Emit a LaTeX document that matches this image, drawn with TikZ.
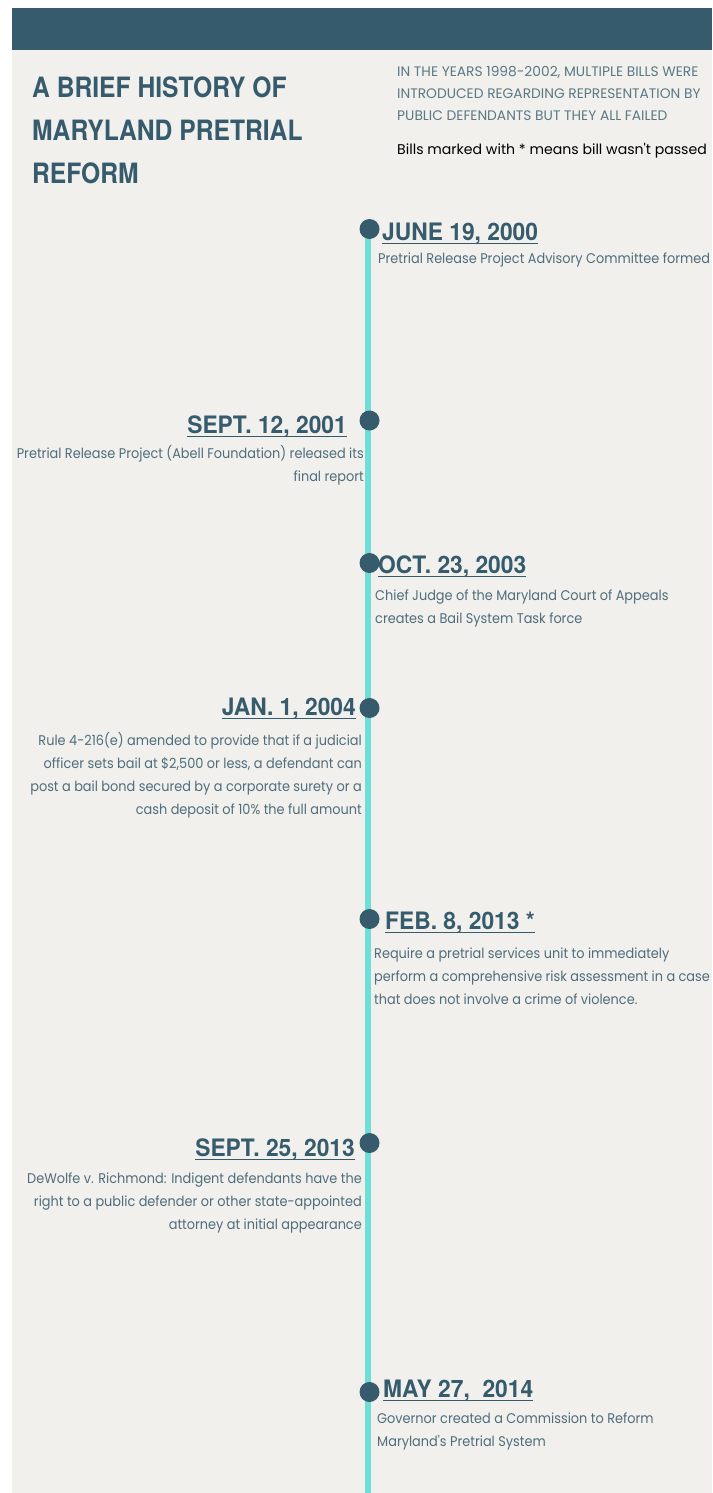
\documentclass[tikz,border=0pt]{standalone}
\usepackage{fontspec}
\usetikzlibrary{backgrounds}
\newfontfamily\titlefont[FakeStretch=0.88]{TeX Gyre Heros}
\newfontfamily\datefont[FakeStretch=0.95]{TeX Gyre Heros}
\newfontfamily\bodyfont[FakeStretch=0.92]{Poppins}
\newfontfamily\introfont{Poppins}
\definecolor{pageBg}{HTML}{F1F0EC}
\definecolor{navy}{HTML}{365B6D}
\definecolor{lineTeal}{HTML}{6EDFD6}
\definecolor{bodyText}{HTML}{4F6D7C}
\definecolor{introText}{HTML}{5A7886}
\tikzset{
  dot/.style={circle, fill=navy, minimum size=20pt, inner sep=0pt},
  datelabel/.style={inner sep=0pt, text=navy, font=\datefont\bfseries\fontsize{24}{28}\selectfont},
  uline/.style={draw=navy, line width=1.4pt},
  bodytext/.style={inner sep=0pt, text=bodyText, font=\bodyfont\fontsize{14}{23}\selectfont},
  titletext/.style={inner sep=0pt, text=navy, align=left, font=\titlefont\bfseries\fontsize{28}{43}\selectfont},
}
\begin{document}
\begin{tikzpicture}[x=1pt,y=-1pt]
\useasboundingbox (0,0) rectangle (712,1493);

% heading
\node[titletext, anchor=north west] (title) at (32,77)
  {A BRIEF HISTORY OF\\MARYLAND PRETRIAL\\REFORM};
\node[bodytext, text=introText, anchor=north west, align=left,
      font=\introfont\fontsize{13.8}{22}\selectfont] (intro) at (397,66)
  {IN THE YEARS 1998-2002, MULTIPLE BILLS WERE\\INTRODUCED REGARDING REPRESENTATION BY\\PUBLIC DEFENDANTS BUT THEY ALL FAILED};
\node[bodytext, text=black, anchor=base west, font=\introfont\fontsize{14.1}{23}\selectfont] (note) at (397,154)
  {Bills marked with * means bill wasn't passed};

% event markers
\node[dot] (d1) at (369.5,229) {};
\node[dot] (d2) at (369.5,420.5) {};
\node[dot] (d3) at (369.5,563) {};
\node[dot] (d4) at (369.5,708) {};
\node[dot] (d5) at (369.5,919) {};
\node[dot] (d6) at (369.5,1143) {};
\node[dot] (d7) at (369.5,1392) {};
\coordinate (spineEnd) at (368,1493);

% page, header band and timeline spine, all behind the markers
\begin{scope}[on background layer]
\fill[white] (0,0) rectangle (712,1493);
\fill[pageBg] (12,8) rectangle (712,1493);
\fill[navy] (12,8) rectangle (712,50);
\draw[lineTeal, line width=5.5pt] (d1.center -| spineEnd) -- (spineEnd);
\end{scope}

% events
\node[datelabel, anchor=base west] (t1) at (382,240) {JUNE 19, 2000};
\node[bodytext, anchor=north west, align=left] (b1) at (378,253)
  {Pretrial Release Project Advisory Committee formed};

\node[datelabel, anchor=base east] (t2) at (347,433) {SEPT. 12, 2001};
\node[bodytext, anchor=north east, align=right] (b2) at (364,445)
  {Pretrial Release Project (Abell Foundation) released its\\final report};

\node[datelabel, anchor=base west] (t3) at (378,573) {OCT. 23, 2003};
\node[bodytext, anchor=north west, align=left] (b3) at (375,590)
  {Chief Judge of the Maryland Court of Appeals\\creates a Bail System Task force};

\node[datelabel, anchor=base east] (t4) at (356,715) {JAN. 1, 2004};
\node[bodytext, anchor=north east, align=right] (b4) at (362,732)
  {Rule 4-216(e) amended to provide that if a judicial\\officer sets bail at \$2,500 or less, a defendant can\\post a bail bond secured by a corporate surety or a\\cash deposit of 10\% the full amount};

\node[datelabel, anchor=base west] (t5) at (385,929) {FEB. 8, 2013 *};
\node[bodytext, anchor=north west, align=left] (b5) at (374,948)
  {Require a pretrial services unit to immediately\\perform a comprehensive risk assessment in a case\\that does not involve a crime of violence.};

\node[datelabel, anchor=base east] (t6) at (355,1156) {SEPT. 25, 2013};
\node[bodytext, anchor=north east, align=right] (b6) at (362,1173)
  {DeWolfe v. Richmond: Indigent defendants have the\\right to a public defender or other state-appointed\\attorney at initial appearance};

\node[datelabel, anchor=base west] (t7) at (383,1397) {MAY 27,\ \ 2014};
\node[bodytext, anchor=north west, align=left] (b7) at (377,1413)
  {Governor created a Commission to Reform\\Maryland's Pretrial System};

% underlines beneath each date
\foreach \t in {t1,t2,t3,t4,t5,t6,t7}{
  \draw[uline] ([yshift=-3.5pt]\t.base west) -- ([yshift=-3.5pt]\t.base east);
}
\end{tikzpicture}
\end{document}
